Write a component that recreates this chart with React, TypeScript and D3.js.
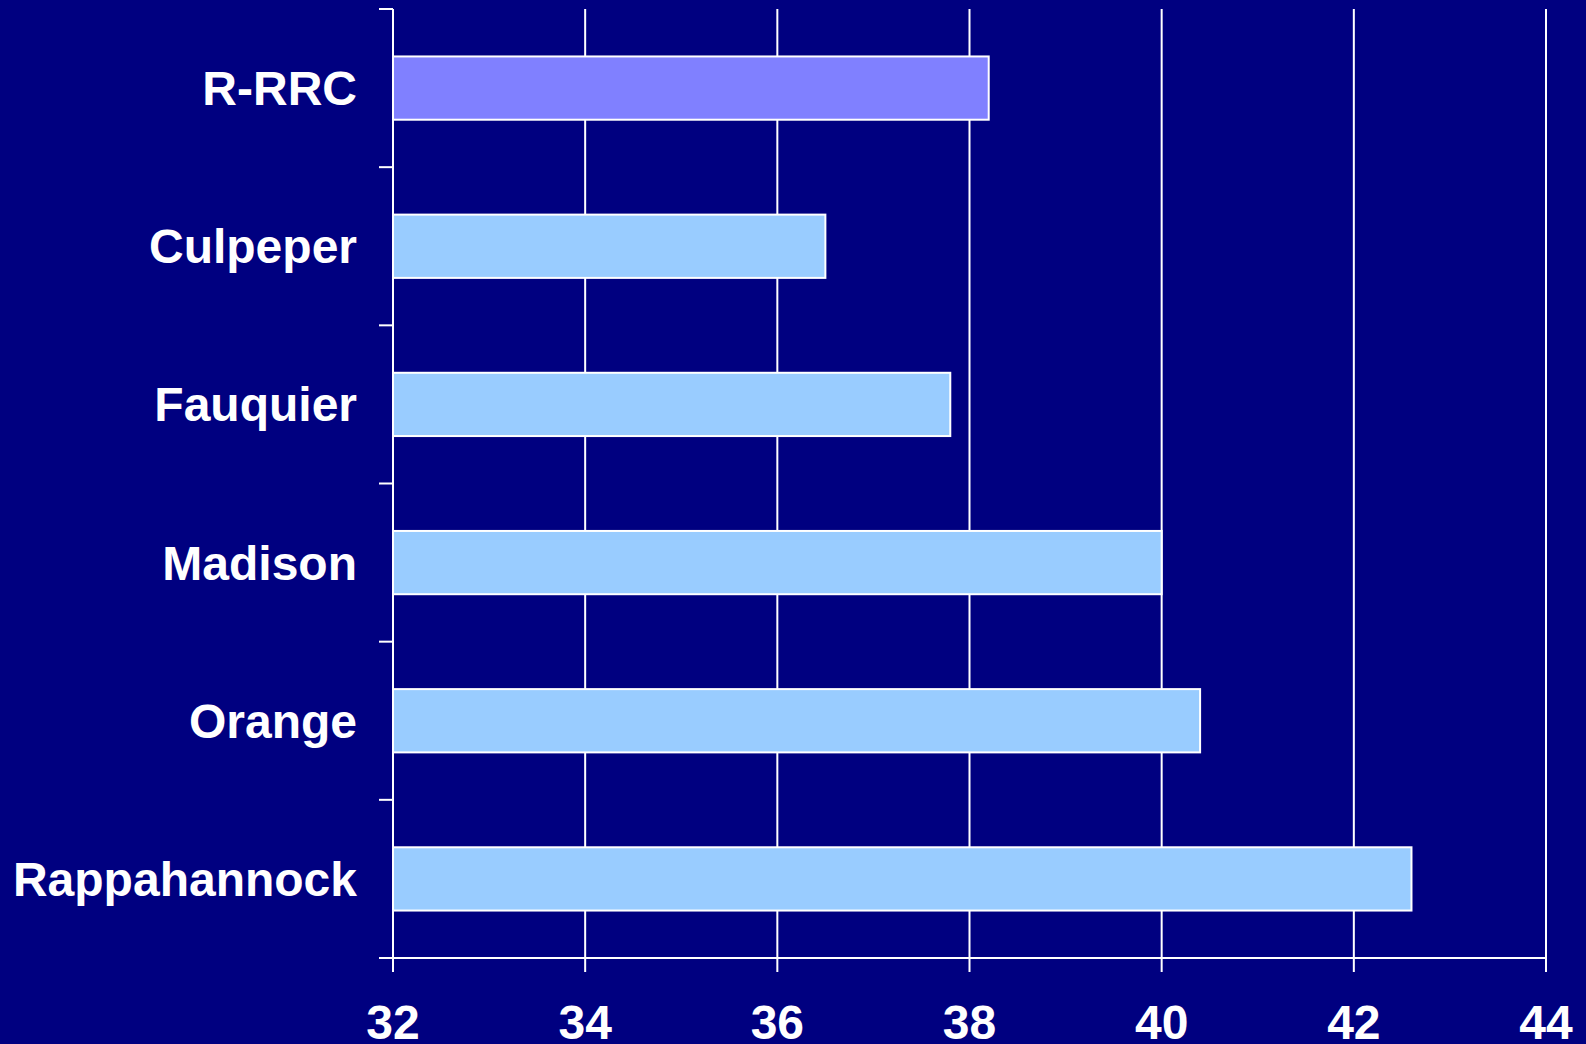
import React, { useEffect, useRef } from 'react'
import * as d3 from 'd3'

const categories = ['R-RRC', 'Culpeper', 'Fauquier', 'Madison', 'Orange', 'Rappahannock']
const values = [38.2, 36.5, 37.8, 40.0, 40.4, 42.6]
const barColors = ['#8080FF', '#99CCFF', '#99CCFF', '#99CCFF', '#99CCFF', '#99CCFF']
const xTicks = [32, 34, 36, 38, 40, 42, 44]

export default function App() {
  const svgRef = useRef<SVGSVGElement>(null)

  useEffect(() => {
    const svg = d3.select(svgRef.current)
    svg.selectAll('*').remove()

    const width = 1586
    const height = 1044
    const left = 393
    const right = 1546
    const top = 9
    const bottom = 958
    const font = '"Liberation Sans", Arial, sans-serif'

    svg.attr('width', width).attr('height', height)

    svg.append('rect')
      .attr('width', width)
      .attr('height', height)
      .attr('fill', '#000080')

    const x = d3.scaleLinear().domain([32, 44]).range([left, right])
    const y = d3.scaleBand<string>()
      .domain(categories)
      .range([top, bottom])
      .paddingInner(0.6)
      .paddingOuter(0.3)

    // vertical gridlines (and bottom ticks)
    svg.append('g')
      .selectAll('line')
      .data(xTicks.slice(1))
      .join('line')
      .attr('x1', d => x(d))
      .attr('x2', d => x(d))
      .attr('y1', top)
      .attr('y2', bottom + 14)
      .attr('stroke', '#fff')
      .attr('stroke-width', 2)

    // bars
    svg.append('g')
      .selectAll('rect')
      .data(categories)
      .join('rect')
      .attr('x', x(32))
      .attr('y', d => y(d)!)
      .attr('width', (d, i) => x(values[i]) - x(32))
      .attr('height', y.bandwidth())
      .attr('fill', (d, i) => barColors[i])
      .attr('stroke', '#fff')
      .attr('stroke-width', 2)

    // axes
    const axis = svg.append('g').attr('stroke', '#fff').attr('stroke-width', 2)
    axis.append('line')
      .attr('x1', left).attr('x2', left)
      .attr('y1', top).attr('y2', bottom + 14)
    axis.append('line')
      .attr('x1', left - 14).attr('x2', right)
      .attr('y1', bottom).attr('y2', bottom)

    // category boundary ticks on the left axis
    const step = y.step()
    const boundaries = d3.range(categories.length).map(i => top + i * step)
    axis.selectAll('line.ytick')
      .data(boundaries)
      .join('line')
      .attr('class', 'ytick')
      .attr('x1', left - 14).attr('x2', left)
      .attr('y1', d => d).attr('y2', d => d)

    // category labels
    svg.append('g')
      .selectAll('text')
      .data(categories)
      .join('text')
      .attr('x', left - 36)
      .attr('y', d => y(d)! + y.bandwidth() / 2 + 17)
      .attr('text-anchor', 'end')
      .style('font-family', font)
      .style('font-weight', 'bold')
      .style('font-size', '48px')
      .style('fill', '#fff')
      .text(d => d)

    // tick labels
    svg.append('g')
      .selectAll('text')
      .data(xTicks)
      .join('text')
      .attr('x', d => x(d))
      .attr('y', 1039)
      .attr('text-anchor', 'middle')
      .style('font-family', font)
      .style('font-weight', 'bold')
      .style('font-size', '48px')
      .style('fill', '#fff')
      .text(d => d)
  }, [])

  return (
    <div style={{ position: 'absolute', left: 0, top: 0 }}>
      <svg ref={svgRef} style={{ display: 'block' }} />
    </div>
  )
}
